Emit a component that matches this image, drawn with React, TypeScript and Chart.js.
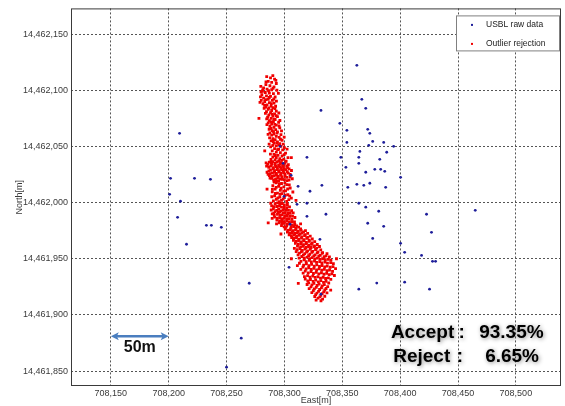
import React, { useEffect, useRef } from "react";
import { Chart, registerables } from "chart.js";

Chart.register(...registerables);

const xTicks = [708150, 708200, 708250, 708300, 708350, 708400, 708450, 708500];
const yTicks = [14461850, 14461900, 14461950, 14462000, 14462050, 14462100, 14462150];
const xRange = [708115.6, 708539];
const yRange = [14461836.7, 14462172.9];

const seriesNames = ["USBL raw data", "Outlier rejection"];

const rawPoints: number[][] = [
  [708209.4, 14462061.7], [708201.6, 14462021.6], [708222.3, 14462021.6], [708236.1, 14462020.7],
  [708200.8, 14462007.4], [708210.2, 14462001.2], [708207.7, 14461986.9], [708215.4, 14461962.9],
  [708232.6, 14461979.8], [708236.9, 14461979.8], [708245.5, 14461978.0], [708269.6, 14461928.2],
  [708262.7, 14461879.3], [708250.0, 14461853.5], [708362.6, 14462122.2], [708366.9, 14462091.9],
  [708370.3, 14462083.9], [708347.9, 14462070.6], [708354.0, 14462064.3], [708372.0, 14462065.2],
  [708373.8, 14462061.7], [708354.0, 14462053.6], [708376.3, 14462054.5], [708372.9, 14462051.0],
  [708385.8, 14462053.6], [708394.4, 14462050.1], [708365.2, 14462045.6], [708388.4, 14462044.8],
  [708348.8, 14462040.3], [708364.3, 14462040.3], [708382.4, 14462038.5], [708353.1, 14462031.4],
  [708364.3, 14462035.0], [708370.3, 14462027.0], [708378.1, 14462029.6], [708383.2, 14462029.6],
  [708386.7, 14462027.8], [708400.4, 14462022.5], [708362.6, 14462016.3], [708368.6, 14462015.4],
  [708373.8, 14462017.2], [708354.8, 14462013.6], [708387.5, 14462013.6], [708364.3, 14461999.4],
  [708370.3, 14461995.9], [708381.5, 14461992.3], [708422.8, 14461989.6], [708372.0, 14461981.6],
  [708385.8, 14461978.9], [708427.1, 14461973.5], [708376.3, 14461968.1], [708400.4, 14461963.7],
  [708403.9, 14461955.7], [708418.5, 14461953.0], [708428.0, 14461947.7], [708430.6, 14461947.7],
  [708364.3, 14461922.9], [708379.8, 14461928.3], [708403.9, 14461929.1], [708425.4, 14461922.9],
  [708464.9, 14461993.1], [708331.6, 14462082.1], [708319.5, 14462040.3], [708298.9, 14462035.0],
  [708305.8, 14462024.3], [708311.8, 14462014.5], [708322.1, 14462010.1], [708332.4, 14462015.4],
  [708299.7, 14462005.6], [708310.9, 14461998.5], [708319.5, 14461999.4], [708319.5, 14461987.8],
  [708335.9, 14461989.6], [708304.9, 14461980.7], [708304.0, 14461942.4], [708296.3, 14462050.1],
  [708330.7, 14461967.3], [708331.6, 14461918.4],
];

const keptPoints: number[][] = [
  // northern strand
  [708290, 14462113], [708288, 14462111], [708291.5, 14462110], [708286, 14462108], [708289, 14462107],
  [708293, 14462106], [708284, 14462105], [708287.5, 14462104], [708291, 14462103], [708282, 14462102],
  [708285, 14462101], [708289, 14462100.5], [708293.5, 14462100], [708281, 14462099], [708283.5, 14462098],
  [708287, 14462097.5], [708290.5, 14462097], [708280.5, 14462096], [708284.5, 14462095], [708288, 14462094.5],
  [708292, 14462094], [708282, 14462093], [708286, 14462092], [708280, 14462091], [708289.5, 14462091],
  [708283, 14462090], [708287, 14462089], [708291, 14462088.5], [708281.5, 14462088], [708285, 14462087],
  [708288.5, 14462086], [708284, 14462085], [708290, 14462084.5], [708282.5, 14462084],
  [708284.7, 14462112.2], [708292.6, 14462108.8], [708279.6, 14462103.4], [708290.2, 14462101.7], [708286.3, 14462099.6],
  [708294.8, 14462097.3], [708279.3, 14462094.1], [708286.9, 14462093.6], [708290.8, 14462092.2], [708283.8, 14462091.7],
  [708293.1, 14462090.4], [708278.9, 14462089.2], [708288.7, 14462088.1], [708282.9, 14462086.6], [708292.4, 14462085.8],
  [708286.6, 14462084.2], [708279.8, 14462098.7], [708284.1, 14462107.4], [708281.2, 14462100.3],
  [708286, 14462083], [708289, 14462082], [708293, 14462081.5], [708284.5, 14462081], [708288, 14462080],
  [708291.5, 14462079], [708286.5, 14462078], [708290, 14462077], [708294, 14462076.5], [708285.5, 14462076],
  [708288.5, 14462075], [708292, 14462074], [708287, 14462073], [708290.5, 14462072], [708295, 14462071.5],
  [708286, 14462071], [708289, 14462070], [708293, 14462069], [708287.5, 14462068], [708291, 14462067],
  [708296, 14462066.5], [708288.5, 14462066], [708292.5, 14462065], [708289.5, 14462064], [708294, 14462063],
  [708287.5, 14462062], [708291, 14462061], [708297, 14462060.5], [708289, 14462060], [708293, 14462059],
  [708295.5, 14462058], [708290, 14462057], [708292, 14462056], [708298, 14462055.5], [708288.5, 14462055],
  [708294, 14462054], [708291, 14462053], [708296, 14462052.5], [708299, 14462052],
  [708291.8, 14462083.6], [708283.6, 14462079.4], [708295.2, 14462079.8], [708289.4, 14462078.7], [708292.9, 14462077.3],
  [708284.7, 14462074.6], [708290.9, 14462074.2], [708296.1, 14462073.1], [708288.3, 14462071.8], [708284.9, 14462069.4],
  [708291.7, 14462069.6], [708295.4, 14462068.2], [708286.8, 14462065.3], [708290.6, 14462063.2], [708297.5, 14462063.8],
  [708285.9, 14462060.7], [708293.6, 14462061.8], [708296.6, 14462056.4], [708287.2, 14462057.6], [708290.4, 14462054.4],
  [708299.8, 14462058.3], [708293.4, 14462053.2], [708286.8, 14462052.1], [708278, 14462075],
  [708290, 14462051], [708293, 14462050.5], [708297, 14462050], [708300, 14462049], [708291.5, 14462048],
  [708295, 14462047.5], [708298.5, 14462047], [708289.5, 14462046], [708293, 14462045], [708296.5, 14462044.5],
  [708301, 14462044], [708291, 14462043], [708294.5, 14462042], [708298, 14462041.5], [708290, 14462040.5],
  [708293, 14462040], [708296, 14462039], [708299.5, 14462038.5], [708292, 14462038], [708295, 14462037],
  [708288.1, 14462049.6], [708295.1, 14462051.4], [708302.3, 14462047.6], [708287.9, 14462043.2], [708299.8, 14462042.7],
  [708303.1, 14462040.1], [708288.4, 14462038.4], [708297.6, 14462037.6], [708301.5, 14462036.8], [708294.1, 14462047.2],
  [708292.2, 14462041.9], [708283, 14462046], [708306, 14462040],
  // 14462030 blob
  [708287, 14462036], [708290, 14462036.5], [708293.5, 14462036], [708297, 14462035.5], [708300.5, 14462035],
  [708285.5, 14462034], [708289, 14462034], [708292, 14462033.5], [708295, 14462033], [708298.5, 14462033],
  [708302, 14462032.5], [708286.5, 14462031.5], [708290.5, 14462031], [708294, 14462031], [708297, 14462030.5],
  [708300, 14462030], [708304, 14462030], [708288, 14462029], [708291.5, 14462028.5], [708295.5, 14462028.5],
  [708299, 14462028], [708302.5, 14462027.5], [708285, 14462027], [708289.5, 14462026.5], [708293, 14462026],
  [708297, 14462026], [708300.5, 14462025.5], [708305, 14462025], [708287, 14462024], [708291, 14462024],
  [708294.5, 14462023.5], [708298, 14462023], [708302, 14462022.5], [708289, 14462021.5], [708292.5, 14462021],
  [708296, 14462021], [708300, 14462020.5], [708304, 14462020], [708291, 14462019], [708295, 14462019],
  [708284.2, 14462035.4], [708288.6, 14462035.7], [708291.8, 14462034.8], [708296.2, 14462034.6], [708299.3, 14462034.2],
  [708303.4, 14462033.7], [708284.6, 14462032.4], [708288.2, 14462032.6], [708292.7, 14462032.1], [708296.4, 14462031.9],
  [708299.2, 14462031.4], [708302.7, 14462031.1], [708306.1, 14462028.6], [708286.6, 14462028.2], [708290.3, 14462029.8],
  [708293.7, 14462029.4], [708297.7, 14462029.1], [708301.1, 14462029.2], [708287.7, 14462025.8], [708291.4, 14462026.9],
  [708295.1, 14462027.1], [708299.3, 14462026.6], [708303.3, 14462026.2], [708285.9, 14462025.1], [708289.4, 14462023.2],
  [708293.1, 14462024.6], [708296.7, 14462024.2], [708300.6, 14462023.6], [708304.8, 14462022.8], [708287.6, 14462021.8],
  [708290.8, 14462020.3], [708294.4, 14462022.1], [708298.2, 14462020.8], [708302.2, 14462019.6], [708293.2, 14462019.4],
  [708306.8, 14462021.2],
  [708293, 14462017.5], [708297.5, 14462017], [708302, 14462016], [708290, 14462015], [708295, 14462014.5],
  [708299.5, 14462014], [708305, 14462013], [708292, 14462012], [708296.5, 14462011], [708301, 14462010.5],
  [708289.5, 14462009.5], [708294, 14462008.5], [708298, 14462008], [708303, 14462007], [708291.5, 14462006],
  [708296, 14462005], [708300, 14462004.5], [708306, 14462004], [708293, 14462003], [708297.5, 14462002],
  [708290.5, 14462001.5], [708302, 14462001],
  [708291.3, 14462018.2], [708295.6, 14462016.4], [708300.4, 14462017.6], [708304.2, 14462015.8], [708292.9, 14462013.6],
  [708297.2, 14462012.8], [708302.8, 14462012.1], [708289.6, 14462011.8], [708299.4, 14462010.2], [708307.3, 14462009.4],
  [708292.2, 14462008.1], [708296.3, 14462007.4], [708300.8, 14462006.6], [708289.1, 14462005.2], [708304.6, 14462005.7],
  [708294.3, 14462004.1], [708298.9, 14462003.2], [708303.8, 14462002.7], [708295.5, 14462000.9], [708285, 14462012],
  [708310, 14462002],
  // 14461990 blob
  [708292, 14461999], [708296, 14461998.5], [708300, 14461998], [708289, 14461997], [708293.5, 14461996.5],
  [708297.5, 14461996], [708302, 14461995.5], [708290.5, 14461994.5], [708295, 14461994], [708299, 14461993.5],
  [708303.5, 14461993], [708292, 14461992], [708296, 14461991.5], [708300.5, 14461991], [708305, 14461990.5],
  [708289.5, 14461990], [708294, 14461989.5], [708298, 14461989], [708302, 14461988.5], [708307, 14461988],
  [708291.5, 14461987], [708296, 14461986.5], [708300, 14461986], [708304, 14461985.5], [708293.5, 14461984.5],
  [708298, 14461984], [708302, 14461983.5], [708306.5, 14461983], [708295.5, 14461982], [708300, 14461981.5],
  [708304.5, 14461981], [708309, 14461980.5], [708297.5, 14461979.5], [708302, 14461979], [708306, 14461978.5],
  [708288.2, 14461999.4], [708294.1, 14461999.7], [708298.2, 14461999.2], [708302.6, 14461998.3], [708291.1, 14461996.3],
  [708295.7, 14461996.8], [708299.8, 14461995.6], [708304.4, 14461996.2], [708288.6, 14461993.4], [708293.3, 14461993.1],
  [708297.1, 14461992.7], [708301.3, 14461993.2], [708306.2, 14461992.8], [708290.9, 14461990.6], [708294.8, 14461991.2],
  [708298.9, 14461990.8], [708302.9, 14461990.3], [708307.6, 14461990.9], [708291.2, 14461988.8], [708296.3, 14461988.6],
  [708300.2, 14461988.1], [708304.5, 14461987.8], [708309.1, 14461986.7], [708289.4, 14461985.9], [708293.9, 14461986.2],
  [708297.8, 14461985.7], [708302.1, 14461985.6], [708306.5, 14461985.2], [708295.8, 14461983.4], [708299.9, 14461983.1],
  [708304.3, 14461982.7], [708308.7, 14461982.9], [708293.2, 14461981.1], [708297.9, 14461981.4], [708302.4, 14461980.9],
  [708306.9, 14461980.2], [708299.8, 14461978.4], [708310.6, 14461979.3], [708286, 14461982], [708314, 14461981],
  // southern blob
  [708301, 14461978], [708305.5, 14461977.5], [708310, 14461977], [708314, 14461976.5], [708303, 14461975.5],
  [708307.5, 14461975], [708312, 14461974.5], [708316.5, 14461974], [708304.5, 14461973], [708309, 14461972.5],
  [708313.5, 14461972], [708318, 14461971.5], [708306, 14461970.5], [708310.5, 14461970], [708315, 14461969.5],
  [708320, 14461969], [708308, 14461968], [708312.5, 14461967.5], [708317, 14461967], [708321.5, 14461966.5],
  [708310, 14461965.5], [708314.5, 14461965], [708319, 14461964.5], [708324, 14461964], [708312, 14461963],
  [708316.5, 14461962.5], [708321, 14461962], [708326, 14461961.5], [708314, 14461960.5], [708318.5, 14461960],
  [708323, 14461960], [708328, 14461959.5],
  [708308.2, 14461978.6], [708312.3, 14461978.1], [708300.7, 14461976.4], [708305.2, 14461975.9], [708309.6, 14461975.7],
  [708314.4, 14461975.3], [708318.2, 14461975.1], [708302.6, 14461973.7], [708306.9, 14461973.4], [708311.2, 14461973.2],
  [708315.3, 14461972.8], [708320.1, 14461972.6], [708304.1, 14461971.2], [708308.2, 14461971.1], [708312.6, 14461970.8],
  [708317.4, 14461970.6], [708322.3, 14461970.2], [708306.3, 14461968.9], [708310.4, 14461968.7], [708314.8, 14461968.3],
  [708319.3, 14461968.1], [708324.1, 14461967.6], [708307.8, 14461966.4], [708312.2, 14461966.2], [708316.6, 14461965.9],
  [708321.4, 14461965.4], [708326.2, 14461965.3], [708309.5, 14461963.8], [708314.3, 14461963.6], [708318.8, 14461963.2],
  [708323.4, 14461962.9], [708328.4, 14461962.7], [708311.3, 14461961.3], [708316.1, 14461961.1], [708320.8, 14461960.7],
  [708325.6, 14461960.6], [708330.3, 14461960.9], [708297, 14461972],
  [708311, 14461958], [708315.5, 14461957.5], [708320, 14461957], [708324.5, 14461956.5], [708329, 14461956],
  [708333, 14461955.5], [708313, 14461955], [708317.5, 14461954.5], [708322, 14461954], [708326.5, 14461953.5],
  [708331, 14461953], [708336, 14461952.5], [708315, 14461952], [708319.5, 14461951.5], [708324, 14461951],
  [708328.5, 14461950.5], [708333, 14461950], [708338, 14461949.5], [708317, 14461949], [708321.5, 14461948.5],
  [708326, 14461948], [708330.5, 14461947.5], [708335, 14461947], [708340, 14461946.5], [708313, 14461946],
  [708319, 14461945.5], [708323.5, 14461945], [708328, 14461944.5], [708332.5, 14461944], [708337, 14461943.5],
  [708342, 14461943], [708316, 14461942.5], [708321, 14461942], [708325.5, 14461941.5], [708330, 14461941],
  [708334.5, 14461940.5], [708339, 14461940], [708318, 14461939], [708323, 14461938.5], [708327.5, 14461938],
  [708332, 14461937.5], [708336.5, 14461937], [708341, 14461936.5],
  [708308.6, 14461959.2], [708313.4, 14461959.1], [708317.8, 14461958.7], [708322.4, 14461958.4], [708326.9, 14461958.2],
  [708331.4, 14461957.9], [708310.2, 14461956.4], [708314.7, 14461956.2], [708319.2, 14461955.9], [708323.7, 14461955.6],
  [708328.3, 14461955.2], [708332.6, 14461954.9], [708336.8, 14461954.6], [708311.8, 14461953.4], [708316.4, 14461953.2],
  [708320.9, 14461952.8], [708325.4, 14461952.6], [708329.7, 14461952.2], [708334.3, 14461951.9], [708338.9, 14461951.6],
  [708312.7, 14461950.6], [708317.2, 14461950.3], [708321.8, 14461950.1], [708326.3, 14461949.8], [708330.8, 14461949.4],
  [708335.4, 14461949.1], [708340.2, 14461948.8], [708314.3, 14461947.6], [708318.8, 14461947.4], [708323.3, 14461947.1],
  [708327.8, 14461946.8], [708332.4, 14461946.4], [708337.2, 14461946.1], [708342.3, 14461945.6], [708311.2, 14461943.9],
  [708316.6, 14461944.2], [708321.2, 14461943.8], [708325.8, 14461943.4], [708330.3, 14461943.1], [708334.8, 14461942.8],
  [708339.6, 14461942.4], [708344.2, 14461941.2], [708314.2, 14461940.6], [708318.7, 14461940.9], [708323.2, 14461940.4],
  [708327.8, 14461940.1], [708332.3, 14461939.8], [708336.8, 14461939.4], [708341.6, 14461938.8], [708316.2, 14461937.2],
  [708320.6, 14461937.4], [708325.1, 14461936.9], [708329.7, 14461936.6], [708334.2, 14461936.2], [708338.7, 14461935.8],
  [708343.2, 14461935.1], [708306, 14461950], [708345, 14461950],
  [708320, 14461935], [708324.5, 14461934.5], [708329, 14461934], [708333.5, 14461933.5], [708338, 14461933],
  [708318, 14461932], [708322.5, 14461931.5], [708327, 14461931], [708331.5, 14461930.5], [708336, 14461930],
  [708321, 14461928.5], [708325.5, 14461928], [708330, 14461927.5], [708334.5, 14461927], [708323, 14461925],
  [708327.5, 14461924.5], [708332, 14461924], [708336, 14461923.5], [708325, 14461921.5], [708329.5, 14461921],
  [708334, 14461920.5], [708327, 14461918], [708331.5, 14461917.5], [708329, 14461915], [708333, 14461914],
  [708317.3, 14461934.1], [708322.1, 14461933.7], [708326.6, 14461933.4], [708331.2, 14461932.8], [708335.6, 14461932.4],
  [708340.1, 14461931.7], [708320.2, 14461930.2], [708324.8, 14461929.8], [708329.3, 14461929.4], [708333.8, 14461928.9],
  [708338.3, 14461928.4], [708319.6, 14461927.1], [708323.8, 14461926.8], [708328.2, 14461926.2], [708332.7, 14461925.8],
  [708337.4, 14461925.2], [708321.4, 14461923.4], [708325.9, 14461923.1], [708330.4, 14461922.6], [708334.9, 14461922.2],
  [708323.7, 14461919.8], [708328.1, 14461919.4], [708332.6, 14461918.9], [708336.8, 14461919.6], [708326.2, 14461916.4],
  [708330.6, 14461916.1], [708334.9, 14461916.6], [708327.4, 14461913.2], [708331.6, 14461912.6], [708312, 14461928],
  [708340, 14461922],
];

// annotation anchors (data units)
const scaleBarEast = [708150, 708200];
const scaleBarNorth = 14461881;
const scaleBarLabel = "50m";
const summaryLabels = ["Accept", "Reject"];
const summaryValues = ["93.35%", "6.65%"];
const summaryNorth = [14461879.3, 14461857.9];
const summaryLabelEast = [708392, 708394];
const summaryColonEast = [708450.5, 708449];
const summaryValueEast = [708524, 708520];

const FONT = "'Liberation Sans', Arial, sans-serif";
const fmt = (v: number) => Number(v).toLocaleString("en-US");

const overlayPlugin = {
  id: "overlay",
  afterDraw(chart: any) {
    const { ctx, chartArea: a, scales } = chart;
    const xs = scales.x;
    const ys = scales.y;
    ctx.save();
    ctx.setLineDash([]);

    // frame
    ctx.strokeStyle = "#3a3a3a";
    ctx.lineWidth = 1;
    ctx.strokeRect(a.left + 0.5, a.top + 0.5, a.right - a.left - 1, a.bottom - a.top - 1);

    // legend
    const lx = a.right - 105;
    const ly = a.top + 7;
    const lw = 104;
    const lh = 36;
    ctx.fillStyle = "#ffffff";
    ctx.fillRect(lx, ly, lw, lh);
    ctx.strokeStyle = "#808080";
    ctx.strokeRect(lx + 0.5, ly + 0.5, lw - 1, lh - 1);
    ctx.font = `8.5px ${FONT}`;
    ctx.textBaseline = "middle";
    ctx.textAlign = "left";
    chart.data.datasets.forEach((ds: any, i: number) => {
      const cy = ly + 9.5 + i * 19;
      ctx.fillStyle = ds.backgroundColor;
      ctx.fillRect(lx + 15, cy - 1, 2, 2);
      ctx.fillStyle = "#222";
      ctx.fillText(ds.label, lx + 30, cy);
    });

    // scale bar arrow
    const x1 = xs.getPixelForValue(scaleBarEast[0]);
    const x2 = xs.getPixelForValue(scaleBarEast[1]);
    const yb = ys.getPixelForValue(scaleBarNorth);
    ctx.strokeStyle = "#4a7ebf";
    ctx.fillStyle = "#4a7ebf";
    ctx.lineWidth = 2.5;
    ctx.beginPath();
    ctx.moveTo(x1 + 5, yb);
    ctx.lineTo(x2 - 5, yb);
    ctx.stroke();
    const head = (tip: number, dir: number) => {
      ctx.beginPath();
      ctx.moveTo(tip, yb);
      ctx.lineTo(tip + dir * 8, yb - 4);
      ctx.lineTo(tip + dir * 6, yb);
      ctx.lineTo(tip + dir * 8, yb + 4);
      ctx.closePath();
      ctx.fill();
    };
    head(x1, 1);
    head(x2, -1);

    ctx.fillStyle = "#111";
    ctx.font = `bold 16px ${FONT}`;
    ctx.textAlign = "center";
    ctx.textBaseline = "alphabetic";
    ctx.fillText(scaleBarLabel, (x1 + x2) / 2, yb + 16);

    // summary text
    ctx.font = `bold 19px ${FONT}`;
    ctx.shadowColor = "rgba(0,0,0,0.45)";
    ctx.shadowBlur = 4;
    ctx.shadowOffsetX = 1;
    ctx.shadowOffsetY = 1;
    ctx.fillStyle = "#000";
    summaryLabels.forEach((lab, i) => {
      const yy = ys.getPixelForValue(summaryNorth[i]);
      ctx.textAlign = "left";
      ctx.fillText(lab, xs.getPixelForValue(summaryLabelEast[i]), yy);
      ctx.fillText(":", xs.getPixelForValue(summaryColonEast[i]), yy);
      ctx.textAlign = "right";
      ctx.fillText(summaryValues[i], xs.getPixelForValue(summaryValueEast[i]), yy);
    });
    ctx.restore();
  },
};

export default function App() {
  const ref = useRef<HTMLCanvasElement | null>(null);
  useEffect(() => {
    if (!ref.current) return;
    const tickFont = { family: FONT, size: 9 };
    const chart = new Chart(ref.current, {
      type: "scatter",
      data: {
        datasets: [
          {
            label: seriesNames[0],
            data: rawPoints.map(([e, n]) => ({ x: e, y: n })),
            backgroundColor: "#1e1e9a",
            borderColor: "#1e1e9a",
            borderWidth: 0,
            pointRadius: 1.4,
            pointStyle: "circle",
          },
          {
            label: seriesNames[1],
            data: keptPoints.map(([e, n]) => ({ x: e, y: n })),
            backgroundColor: "#f00000",
            borderColor: "#f00000",
            borderWidth: 0,
            pointRadius: 2,
            pointStyle: "rect",
          },
        ],
      },
      options: {
        animation: false,
        responsive: false,
        devicePixelRatio: 1,
        layout: { padding: { top: 8, right: 3, bottom: 0, left: 0 } },
        plugins: { legend: { display: false }, tooltip: { enabled: false } },
        scales: {
          x: {
            type: "linear",
            position: "bottom",
            min: xRange[0],
            max: xRange[1],
            afterBuildTicks: (s: any) => {
              s.ticks = xTicks.map((v) => ({ value: v }));
            },
            afterFit: (s: any) => {
              s.height = 20;
            },
            grid: { color: "#555", lineWidth: 1, drawTicks: false },
            border: { display: false, dash: [2, 2] },
            ticks: {
              font: tickFont,
              color: "#3a3a3a",
              padding: 2,
              autoSkip: false,
              maxRotation: 0,
              callback: (v: any) => fmt(v),
            },
            title: {
              display: true,
              text: "East[m]",
              font: tickFont,
              color: "#3a3a3a",
              padding: { top: 0, bottom: 0 },
            },
          },
          y: {
            type: "linear",
            position: "left",
            min: yRange[0],
            max: yRange[1],
            afterBuildTicks: (s: any) => {
              s.ticks = yTicks.map((v) => ({ value: v }));
            },
            afterFit: (s: any) => {
              s.width = 71;
            },
            grid: { color: "#555", lineWidth: 1, drawTicks: false },
            border: { display: false, dash: [2, 2] },
            ticks: {
              font: tickFont,
              color: "#3a3a3a",
              padding: 3,
              autoSkip: false,
              callback: (v: any) => fmt(v),
            },
            title: {
              display: true,
              text: "North[m]",
              font: tickFont,
              color: "#3a3a3a",
              padding: { top: 14.6, bottom: 0 },
            },
          },
        },
      },
      plugins: [overlayPlugin],
    } as any);
    return () => chart.destroy();
  }, []);
  return (
    <div style={{ position: "absolute", left: 0, top: 0, width: 565, height: 406 }}>
      <canvas ref={ref} width={565} height={406} style={{ display: "block" }} />
    </div>
  );
}
